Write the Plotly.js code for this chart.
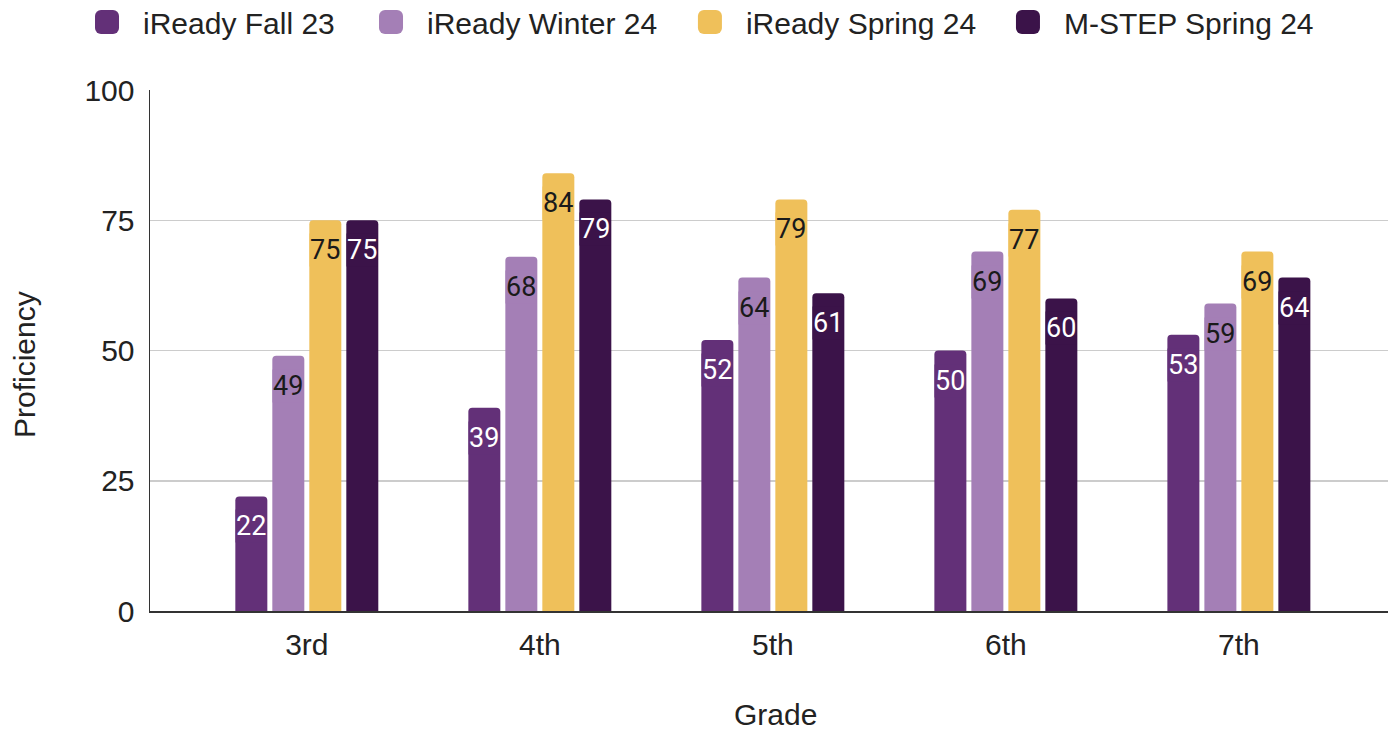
<!DOCTYPE html>
<html><head><meta charset="utf-8">
<script src="https://cdn.plot.ly/plotly-3.0.1.min.js"></script>
<style>html,body{margin:0;padding:0;background:#fff}#chart{width:1388px;height:734px}</style>
</head><body><div id="chart"></div>
<script>
const grades = ['3rd', '4th', '5th', '6th', '7th'];
const seriesNames = ['iReady Fall 23', 'iReady Winter 24', 'iReady Spring 24', 'M-STEP Spring 24'];
const fall23 = [22, 39, 52, 50, 53];
const winter24 = [49, 68, 64, 69, 59];
const spring24 = [75, 84, 79, 77, 69];
const mstep24 = [75, 79, 61, 60, 64];
const yTicks = [0, 25, 50, 75, 100];
const xTitle = 'Grade';
const yTitle = 'Proficiency';

const seriesValues = [fall23, winter24, spring24, mstep24];
const colors = ['#633078', '#a47fb6', '#efc05a', '#3b1349'];
const labelColors = ['#ffffff', '#1a1a1a', '#1a1a1a', '#ffffff'];
const font = 'Liberation Sans, Arial, sans-serif';
const textColor = '#222222';
const legendIds = ['legend', 'legend2', 'legend3', 'legend4'];
const legendX = [-0.0638, 0.1656, 0.4232, 0.6801];

const traces = seriesValues.map((vals, i) => ({
  type: 'bar', x: grades, y: vals, name: seriesNames[i],
  marker: {color: colors[i], cornerradius: 4},
  legend: legendIds[i],
  hoverinfo: 'skip'
}));

const slot = 37; // px between bar centers
const annotations = [];
seriesValues.forEach((vals, i) => {
  vals.forEach((v, j) => {
    annotations.push({
      x: grades[j], y: v, xref: 'x', yref: 'y', text: String(v), showarrow: false,
      xshift: (i - 1.5) * slot, yshift: -30, yanchor: 'middle',
      font: {family: 'Roboto, sans-serif', size: 27, color: labelColors[i]},
      bgcolor: colors[i], borderpad: 0
    });
  });
});
annotations.push({
  text: xTitle, xref: 'paper', yref: 'paper', x: (775 - 150) / 1238, y: -(733 - 611) / 521,
  xanchor: 'center', yanchor: 'bottom', showarrow: false,
  font: {family: font, size: 30, color: textColor}
});
annotations.push({
  text: yTitle, xref: 'paper', yref: 'paper', x: (24 - 150) / 1238, y: (611 - 365) / 521,
  xanchor: 'center', yanchor: 'middle', showarrow: false, textangle: -90,
  font: {family: font, size: 30, color: textColor}
});

const layout = {
  width: 1388, height: 734,
  margin: {l: 150, r: 0, t: 90, b: 123},
  paper_bgcolor: '#fff', plot_bgcolor: '#fff',
  barmode: 'group', bargap: 0.365, bargroupgap: 0.135,
  showlegend: true,
  xaxis: {type: 'category', range: [-0.673, 4.64], showgrid: false, ticks: '', ticklen: 0,
    showline: true, linecolor: '#333', linewidth: 1.5, ticklabelstandoff: 6,
    tickfont: {family: font, size: 30, color: textColor}, automargin: false},
  yaxis: {range: [0, 100], tickvals: yTicks, showgrid: true, gridcolor: '#cccccc', gridwidth: 1.5,
    showline: true, linecolor: '#333', linewidth: 1.5, zeroline: false, ticks: '',
    ticklabelstandoff: 8,
    tickfont: {family: font, size: 30, color: textColor}, automargin: false},
  annotations: annotations
};
legendIds.forEach((id, i) => {
  layout[id] = {orientation: 'h', x: legendX[i], xanchor: 'left', y: 1 - 22 / 734, yref: 'container',
    yanchor: 'middle', font: {family: font, size: 30, color: textColor}, itemwidth: 62,
    bgcolor: 'rgba(0,0,0,0)'};
});

Plotly.newPlot('chart', traces, layout, {displayModeBar: false, staticPlot: true}).then(() => {
  document.querySelectorAll('.legendpoints path').forEach(p => {
    const t = p.getAttribute('transform') || '';
    p.setAttribute('transform', t + ' scale(2)');
    p.style.strokeWidth = '0';
  });
});
</script></body></html>
